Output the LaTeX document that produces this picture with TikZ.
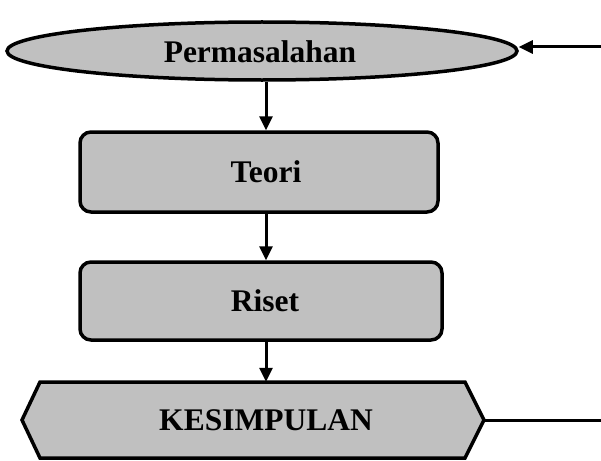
\documentclass[tikz,border=0pt]{standalone}
\usepackage{fontspec}
\setmainfont{Liberation Serif}
\usetikzlibrary{shapes.geometric,arrows.meta}
\definecolor{boxgray}{HTML}{C0C0C0}
\begin{document}
\begin{tikzpicture}[x=1pt,y=-1pt,
  every node/.style={font=\bfseries\fontsize{31.5}{36}\selectfont},
  shapeline/.style={draw=black,line width=3.5pt,fill=boxgray},
  roundbox/.style={shapeline,rectangle,rounded corners=11pt,inner sep=0pt},
  label/.style={inner sep=0pt},
  link/.style={line width=3pt,-{Triangle[length=14pt,width=13pt]}},
  plainlink/.style={line width=3pt}]
\useasboundingbox (0,0) rectangle (601,460);
% problem statement
\node[shapeline,ellipse,inner sep=0pt,minimum width=510pt,minimum height=58pt] (perm) at (262,51) {};
\node[label] at (260,52) {Permasalahan};
% theory and research steps
\node[roundbox,minimum width=358pt,minimum height=80pt] (teori) at (259,172) {};
\node[label] at (266,172) {Teori};
\node[roundbox,minimum width=362pt,minimum height=78pt] (riset) at (261,301) {};
\node[label] at (265,301) {Riset};
% conclusion hexagon
\draw[shapeline,line join=miter] (22,420) -- (40,382) -- (465,382) -- (484,420) -- (465,458) -- (40,458) -- cycle;
\node[inner sep=0pt,minimum width=425pt,minimum height=76pt] (kes) at (253,420) {};
\node[label] at (266,420) {KESIMPULAN};
\coordinate (kesR) at (484,420);
\coordinate (inR) at (601,47);
\coordinate (outR) at (601,420);
% connectors
\draw[link] (inR) -- (perm.east |- inR);
\draw[link] (perm.south -| 266,0) -- (teori.north -| 266,0);
\draw[link] (teori.south -| 266,0) -- (riset.north -| 266,0);
\draw[link] (riset.south -| 266,0) -- (kes.north -| 266,0);
\draw[plainlink] (kesR) -- (outR);
\end{tikzpicture}
\end{document}
